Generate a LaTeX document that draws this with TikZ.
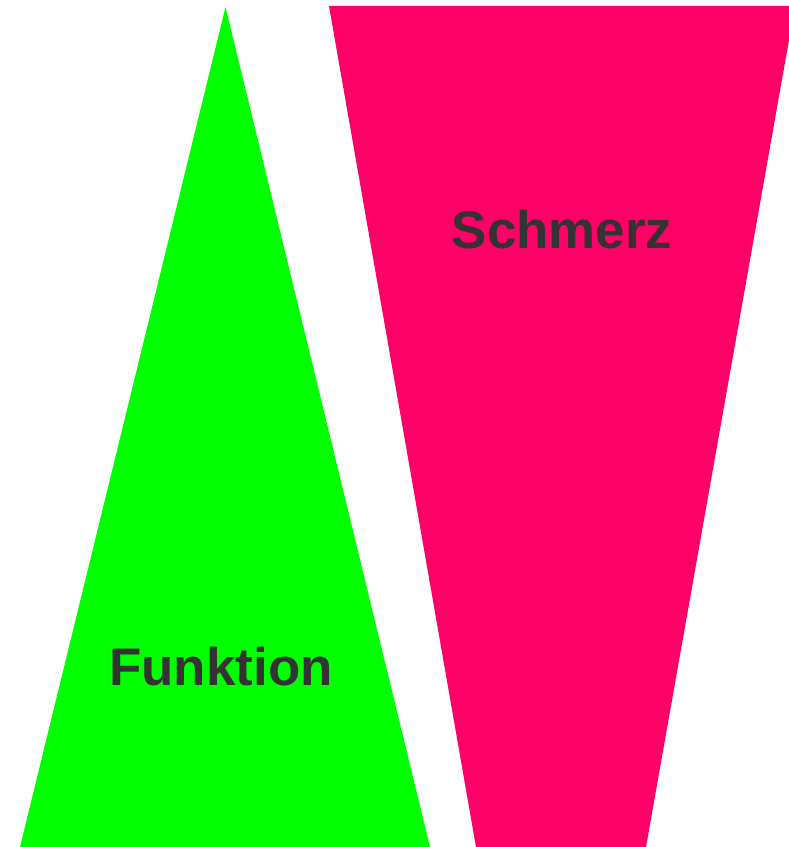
\documentclass[tikz,border=0pt]{standalone}
\usepackage{fontspec}
\setmainfont{Liberation Sans}
\definecolor{greenfill}{HTML}{00FF00}
\definecolor{pinkfill}{HTML}{FF0066}
\definecolor{textgray}{HTML}{333333}
\begin{document}
\begin{tikzpicture}[x=1pt,y=1pt,
  lbl/.style={text=textgray,font=\fontsize{52.9}{60}\selectfont\bfseries,inner sep=0pt}]
\useasboundingbox (0,0) rectangle (789,847);
\begin{scope}
\clip (0,0) rectangle (789,847);
\fill[greenfill] (225.5,840) -- (430,0) -- (20,0) -- cycle;
\fill[pinkfill] (329,841) -- (795,841) -- (646,0) -- (476,0) -- cycle;
\end{scope}
\node[lbl] (schmerz) at (562,617) {Schmerz};
\node[lbl] (funktion) at (221,180) {Funktion};
\end{tikzpicture}
\end{document}
